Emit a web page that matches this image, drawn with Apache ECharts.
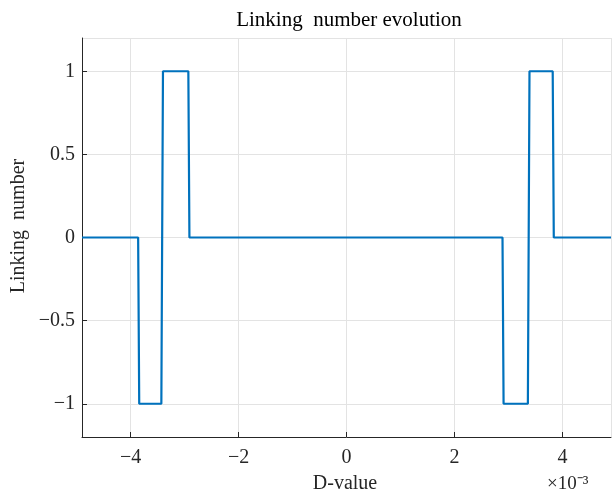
<!DOCTYPE html>
<html>
<head>
<meta charset="utf-8">
<script src="https://cdn.jsdelivr.net/npm/echarts@6/dist/echarts.min.js"></script>
<style>
  html, body { margin: 0; padding: 0; background: #fff; }
  #main { width: 612px; height: 492px; }
</style>
</head>
<body>
<div id="main"></div>
<script>
// D-value in units of 1e-3
var dValue  = [-4.9, -3.86, -3.84, -3.43, -3.40, -2.93, -2.91, 2.89, 2.91, 3.36, 3.39, 3.82, 3.84, 4.9];
var linking = [0, 0, -1, -1, 1, 1, 0, 0, -1, -1, 1, 1, 0, 0];

var serif = 'Liberation Serif';
function fmt(v) {
  var s = String(Math.round(v * 100) / 100);
  return s.replace('-', '\u2212');
}

var pts = [];
for (var i = 0; i < dValue.length; i++) pts.push([dValue[i], linking[i]]);

var chart = echarts.init(document.getElementById('main'));
chart.setOption({
  animation: false,
  backgroundColor: '#fff',
  title: {
    text: 'Linking  number evolution',
    left: 344, top: 5, textAlign: 'center',
    textStyle: { fontFamily: serif, fontSize: 21, fontWeight: 'normal', color: '#000' }
  },
  grid: { left: 82, right: 1, top: 38, bottom: 55 },
  xAxis: {
    type: 'value', min: -4.9, max: 4.9,
    axisLine: { onZero: false, lineStyle: { color: '#262626', width: 1 } },
    axisTick: { inside: true, length: 5, lineStyle: { color: '#262626' } },
    axisLabel: { showMinLabel: false, showMaxLabel: false, margin: 11, formatter: fmt,
      fontFamily: serif, fontSize: 20, color: '#262626' },
    splitLine: { show: true, lineStyle: { color: '#e3e3e3', width: 1 } }
  },
  yAxis: {
    type: 'value', min: -1.2, max: 1.2,
    axisLine: { show: true, onZero: false, lineStyle: { color: '#262626', width: 1 } },
    axisTick: { show: true, inside: true, length: 5, lineStyle: { color: '#262626' } },
    axisLabel: { showMinLabel: false, showMaxLabel: false, margin: 7, formatter: fmt,
      fontFamily: serif, fontSize: 20, color: '#262626' },
    splitLine: { show: true, lineStyle: { color: '#e3e3e3', width: 1 } }
  },
  graphic: [
    { type: 'text', x: 345, y: 484,
      style: { text: 'D-value', x: 0, y: 0, align: 'center', verticalAlign: 'middle',
        font: '20px "Liberation Serif"', fill: '#262626' } },
    { type: 'text', x: 547, y: 484,
      style: { text: '\u00d710\u207b\u00b3', x: 0, y: 0, align: 'left', verticalAlign: 'middle',
        font: '19px "Liberation Serif"', fill: '#262626' } },
    { type: 'text', x: 19, y: 226, rotation: Math.PI / 2,
      style: { text: 'Linking  number', x: 0, y: 0, align: 'center', verticalAlign: 'middle',
        font: '20px "Liberation Serif"', fill: '#262626' } }
  ],
  series: [{
    type: 'line',
    data: pts,
    showSymbol: false,
    lineStyle: { color: '#0072BD', width: 2.2 },
    itemStyle: { color: '#0072BD' }
  }]
});
</script>
</body>
</html>
